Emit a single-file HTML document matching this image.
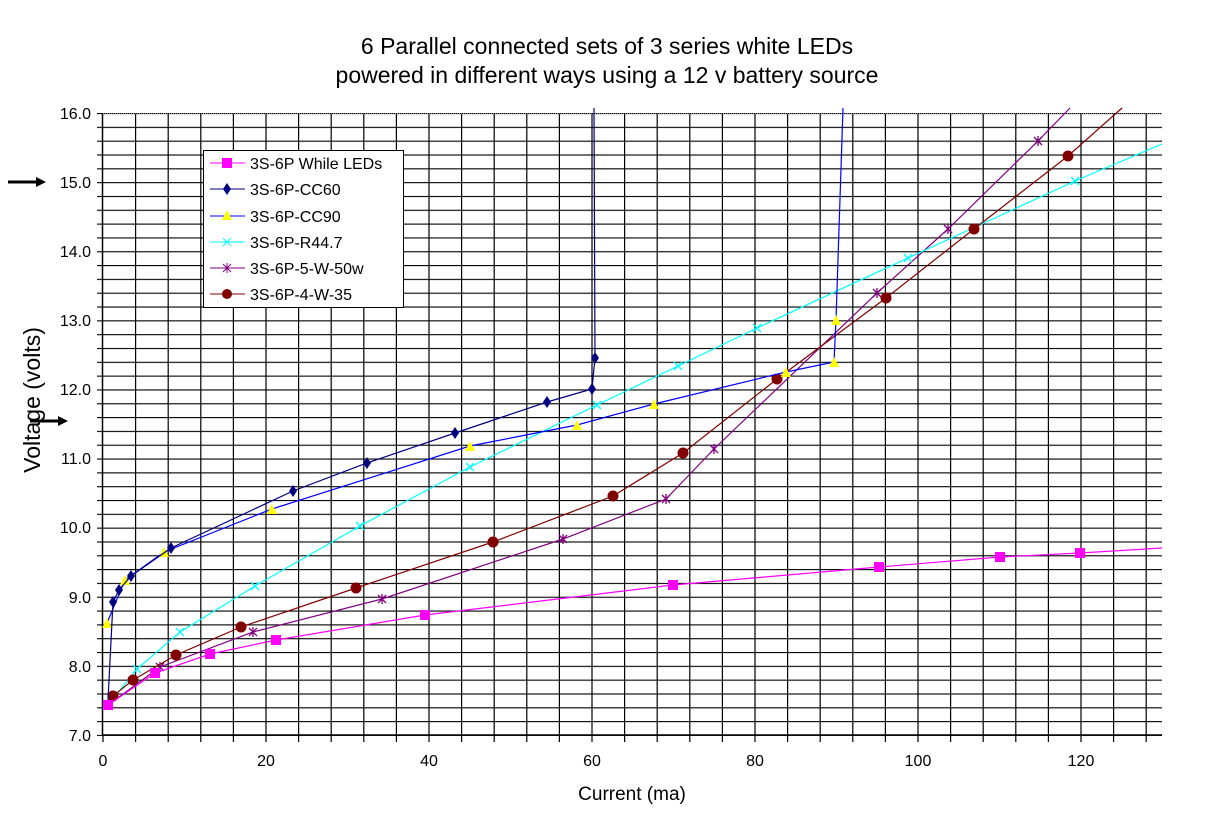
<!DOCTYPE html>
<html><head><meta charset="utf-8"><style>
html,body{margin:0;padding:0;background:#fff;}
svg{display:block;font-family:"Liberation Sans",Arial,sans-serif;}
</style></head><body>
<svg width="1212" height="828" viewBox="0 0 1212 828" xmlns="http://www.w3.org/2000/svg">
<defs>
<pattern id="gh" x="0" y="113" width="1212" height="13.82" patternUnits="userSpaceOnUse"><line x1="0" y1="0.5" x2="1212" y2="0.5" stroke="#000" stroke-width="1.2"/></pattern>
<marker id="mSq" markerUnits="userSpaceOnUse" markerWidth="14" markerHeight="14" refX="7" refY="7"><rect x="2" y="2" width="10" height="10" fill="#ff00ff"/></marker>
<marker id="mDi" markerUnits="userSpaceOnUse" markerWidth="14" markerHeight="14" refX="7" refY="7"><polygon points="7,1 11,7 7,13 3,7" fill="#000080"/></marker>
<marker id="mTr" markerUnits="userSpaceOnUse" markerWidth="14" markerHeight="14" refX="7" refY="7"><polygon points="7,2 12,12 2,12" fill="#ffff00"/></marker>
<marker id="mX" markerUnits="userSpaceOnUse" markerWidth="14" markerHeight="14" refX="7" refY="7"><path d="M3,3 L11,11 M11,3 L3,11" stroke="#00ffff" stroke-width="1.3"/></marker>
<marker id="mSt" markerUnits="userSpaceOnUse" markerWidth="14" markerHeight="14" refX="7" refY="7"><path d="M3,3 L11,11 M11,3 L3,11 M7,2 L7,12" stroke="#800080" stroke-width="1.3"/></marker>
<marker id="mCi" markerUnits="userSpaceOnUse" markerWidth="14" markerHeight="14" refX="7" refY="7"><circle cx="7" cy="7" r="5.5" fill="#800000"/></marker>
</defs>
<rect width="1212" height="828" fill="#fff"/>
<text x="607" y="54" font-size="23" text-anchor="middle">6 Parallel connected sets of 3 series white LEDs</text>
<text x="607" y="83" font-size="23" text-anchor="middle">powered in different ways using a 12 v battery source</text>
<g>
<rect x="97" y="113" width="1065" height="623" fill="url(#gh)"/>
<rect x="97" y="112" width="6" height="624" fill="#fff"/>
<rect x="97" y="113" width="6" height="623" fill="url(#gh)"/>
<path stroke="#000" stroke-width="1.2" fill="none" d="M135.6,113V742M168.2,113V742M200.8,113V742M233.4,113V742M266,113V742M298.6,113V742M331.2,113V742M363.8,113V742M396.4,113V742M429,113V742M461.6,113V742M494.2,113V742M526.8,113V742M559.4,113V742M592,113V742M624.6,113V742M657.2,113V742M689.8,113V742M722.4,113V742M755,113V742M787.6,113V742M820.2,113V742M852.8,113V742M885.4,113V742M918,113V742M950.6,113V742M983.2,113V742M1015.8,113V742M1048.4,113V742M1081,113V742M1113.6,113V742M1146.2,113V742M103,735V742"/>
<line x1="103" y1="113.5" x2="1162" y2="113.5" stroke="#888" stroke-dasharray="1,1"/>
<line x1="102.5" y1="113" x2="102.5" y2="735" stroke="#000" stroke-width="1.5"/>
<line x1="103" y1="735" x2="1162" y2="735" stroke="#000" stroke-width="1.5"/>
</g>
<g font-size="16" text-anchor="end" fill="#000">
<text x="91" y="119">16.0</text><text x="91" y="188">15.0</text><text x="91" y="257">14.0</text><text x="91" y="326">13.0</text><text x="91" y="395">12.0</text><text x="91" y="464">11.0</text><text x="91" y="533">10.0</text><text x="91" y="603">9.0</text><text x="91" y="672">8.0</text><text x="91" y="741">7.0</text>
</g>
<g font-size="16" text-anchor="middle">
<text x="103" y="766">0</text><text x="266" y="766">20</text><text x="429" y="766">40</text><text x="592" y="766">60</text><text x="755" y="766">80</text><text x="918" y="766">100</text><text x="1081" y="766">120</text>
</g>
<text x="632" y="800" font-size="19" text-anchor="middle">Current (ma)</text>
<text transform="translate(40,400) rotate(-90)" font-size="23" text-anchor="middle">Voltage (volts)</text>
<g stroke="#000" stroke-width="3"><line x1="8" y1="182" x2="36" y2="182"/><line x1="30" y1="421" x2="58" y2="421"/></g>
<polygon points="36,177 46,182 36,187" fill="#000"/><polygon points="58,416 68,421 58,426" fill="#000"/>
<g fill="none" stroke-width="1.2">
<polyline stroke="#800080" marker-start="url(#mSt)" marker-mid="url(#mSt)" marker-end="url(#mSt)" points="108,705 160,667 253,632 382,599 563,539 666,499 714,449 877,293 948,229 1038,141"/>
<polyline stroke="#800080" points="1038,141 1070,108"/>
<polyline stroke="#00ffff" marker-start="url(#mX)" marker-mid="url(#mX)" points="108,705 137,669 180,632 255,586 360,526 470,467 597,405 678,366 757,328 908,258 1075,181 1162,144"/>
<polyline stroke="#800000" marker-start="url(#mCi)" marker-mid="url(#mCi)" points="113,696 133,680 176,655 241,627 356,588 493,542 613,496 683,453 777,379 886,298 974,229 1068,156 1122,108"/>
<polyline stroke="#0000ff" marker-start="url(#mTr)" marker-mid="url(#mTr)" points="107,623 125,580 164,552 272,509 470,446 577,425 654,404 786,372 834,362 836,320 843,108"/>
<polyline stroke="#000080" marker-mid="url(#mDi)" points="108,700 113,602 119,590 131,576 171,548 293,491 367,463 455,433 547,402 592,389 595,358 594,108"/>
<polyline stroke="#ff00ff" marker-start="url(#mSq)" marker-mid="url(#mSq)" points="108,705 155,673 210,654 276,640 425,615 673,585 879,567 1000,557 1080,553 1162,548"/>
</g>
<rect x="203.5" y="150.5" width="200" height="157" fill="#fff" stroke="#000"/>
<g font-size="16">
<line x1="210" y1="163" x2="245" y2="163" stroke="#ff00ff"/><rect x="222" y="158" width="10" height="10" fill="#ff00ff"/><text x="250" y="169">3S-6P While LEDs</text>
<line x1="210" y1="189" x2="245" y2="189" stroke="#000080"/><polygon points="227,183 231,189 227,195 223,189" fill="#000080"/><text x="250" y="195">3S-6P-CC60</text>
<line x1="210" y1="216" x2="245" y2="216" stroke="#0000ff"/><polygon points="227,210 232,220 222,220" fill="#ffff00"/><text x="250" y="222">3S-6P-CC90</text>
<line x1="210" y1="242" x2="245" y2="242" stroke="#00ffff"/><path d="M223,238 L231,246 M231,238 L223,246" stroke="#00ffff"/><text x="250" y="248">3S-6P-R44.7</text>
<line x1="210" y1="268" x2="245" y2="268" stroke="#800080"/><path d="M223,264 L231,272 M231,264 L223,272 M227,263 L227,273" stroke="#800080"/><text x="250" y="274">3S-6P-5-W-50w</text>
<line x1="210" y1="294" x2="245" y2="294" stroke="#800000"/><circle cx="227" cy="294" r="5" fill="#800000"/><text x="250" y="300">3S-6P-4-W-35</text>
</g>
</svg>
</body></html>
